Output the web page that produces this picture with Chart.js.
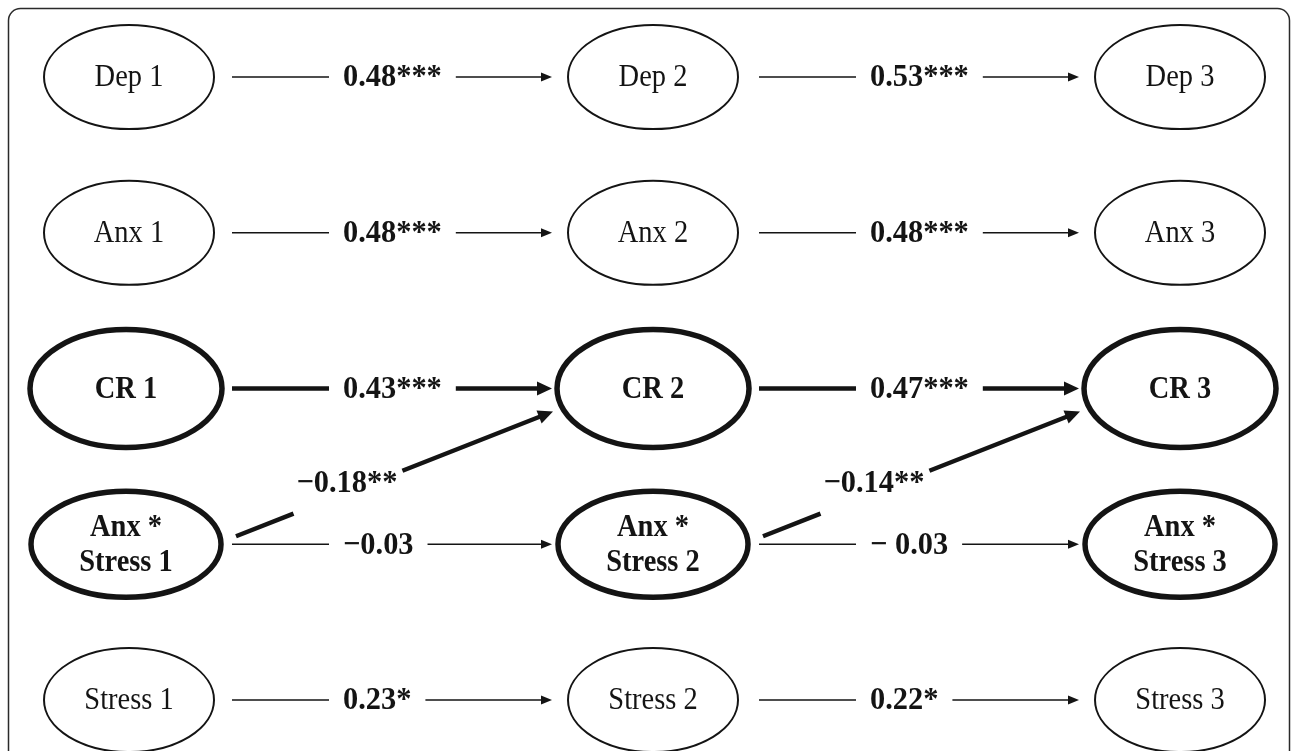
<!DOCTYPE html>
<html>
<head>
<meta charset="utf-8">
<script src="https://cdn.jsdelivr.net/npm/chart.js@4.4.1/dist/chart.umd.min.js"></script>
<style>
  html, body { margin: 0; padding: 0; background: #fff; }
  canvas { display: block; }
</style>
</head>
<body>
<canvas id="pathChart" width="1292" height="751"></canvas>
<script>
// measurement waves (columns) and constructs (rows)
const waves = [1, 2, 3];
const constructs = [['Dep'], ['Anx'], ['CR'], ['Anx *', 'Stress'], ['Stress']];
// autoregressive paths: wave 1 -> 2, wave 2 -> 3
const stability = [
  ['0.48***', '0.53***'],
  ['0.48***', '0.48***'],
  ['0.43***', '0.47***'],
  ['\u22120.03', '\u2212 0.03'],
  ['0.23*', '0.22*']
];
// cross-lagged paths: Anx*Stress (t) -> CR (t+1)
const crossFrom = 3;
const crossTo = 2;
const crossLagged = ['\u22120.18**', '\u22120.14**'];

// styling
const boldRows = [2, 3];
const thickEdgeRows = [2];
const serif = '"Liberation Serif", "Times New Roman", serif';
const ink = '#141414';
const nodeSqueeze = 0.89;   // the figure's type is a little condensed
const labelSqueeze = 0.95;

const nodePoints = [];
constructs.forEach(function(c, r) {
  waves.forEach(function(w) { nodePoints.push({ x: w, y: r + 1 }); });
});

function nodeSize(r) {
  if (r === 2) return { rx: 96, ry: 59, lw: 5.5 };
  if (r === 3) return { rx: 95, ry: 53, lw: 5.5 };
  return { rx: 85, ry: 52, lw: 2 };
}

function drawText(ctx, t, x, y, align, sq) {
  ctx.save();
  ctx.translate(x, y);
  ctx.scale(sq, 1);
  ctx.textAlign = align;
  ctx.textBaseline = 'middle';
  ctx.fillText(t, 0, 0);
  ctx.restore();
}

function arrowHead(ctx, x, y, ang, len, half) {
  ctx.save();
  ctx.translate(x, y);
  ctx.rotate(ang);
  ctx.beginPath();
  ctx.moveTo(0, 0);
  ctx.lineTo(-len, -half);
  ctx.lineTo(-len, half);
  ctx.closePath();
  ctx.fill();
  ctx.restore();
}

const diagramPlugin = {
  id: 'pathDiagram',
  beforeDraw(chart) {
    const ctx = chart.ctx;
    const a = chart.chartArea;
    ctx.save();
    ctx.fillStyle = '#fff';
    ctx.fillRect(a.left, a.top, a.right - a.left, a.bottom - a.top);
    // rounded frame, open at the bottom
    ctx.strokeStyle = '#2a2a2a';
    ctx.lineWidth = 1.5;
    ctx.beginPath();
    ctx.roundRect(a.left + 8.5, a.top + 8.5, a.right - a.left - 11, a.bottom - a.top + 40, 12);
    ctx.stroke();
    ctx.restore();
  },
  afterDatasetsDraw(chart) {
    const ctx = chart.ctx;
    const xs = chart.scales.x, ys = chart.scales.y;
    const cx = function(w) { return xs.getPixelForValue(w); };
    const cy = function(r) { return ys.getPixelForValue(r + 1); };
    ctx.save();
    ctx.strokeStyle = ink;
    ctx.fillStyle = ink;

    // nodes
    constructs.forEach(function(lines, r) {
      const s = nodeSize(r);
      const bold = boldRows.indexOf(r) >= 0;
      waves.forEach(function(w) {
        const x = cx(w) + (s.lw < 3 && w === 1 ? 3 : 0), y = cy(r);
        ctx.lineWidth = s.lw;
        ctx.beginPath();
        ctx.ellipse(x, y, s.rx, s.ry, 0, 0, Math.PI * 2);
        ctx.stroke();
        ctx.font = (bold ? 'bold ' : '') + '32px ' + serif;
        const txt = lines.slice();
        txt[txt.length - 1] += ' ' + w;
        txt.forEach(function(t, i) {
          drawText(ctx, t, x, y + (i - (txt.length - 1) / 2) * 35 + 1, 'center', nodeSqueeze);
        });
      });
    });

    // autoregressive paths
    stability.forEach(function(pair, r) {
      const thick = thickEdgeRows.indexOf(r) >= 0;
      const lw = thick ? 4.5 : 1.5;
      const hl = thick ? 15 : 11, hw = thick ? 7 : 4.5;
      pair.forEach(function(label, k) {
        const y = cy(r);
        const x0 = cx(waves[k]) + 106;
        const x1 = cx(waves[k + 1]) - 101;
        ctx.font = 'bold 32px ' + serif;
        const tw = ctx.measureText(label).width * labelSqueeze;
        const lead = x0 + 97;
        const tx = lead + 14;
        ctx.lineWidth = lw;
        ctx.beginPath();
        ctx.moveTo(x0, y);
        ctx.lineTo(lead, y);
        ctx.moveTo(tx + tw + 14, y);
        ctx.lineTo(x1 - hl + 2, y);
        ctx.stroke();
        arrowHead(ctx, x1, y, 0, hl, hw);
        drawText(ctx, label, tx, y + 1, 'left', labelSqueeze);
      });
    });

    // cross-lagged paths
    crossLagged.forEach(function(label, k) {
      const xa = cx(waves[k]) + 110, ya = cy(crossFrom) - 8;
      const xb = cx(waves[k + 1]) - 100, yb = cy(crossTo) + 23;
      const ang = Math.atan2(yb - ya, xb - xa);
      const hl = 15, hw = 7;
      ctx.font = 'bold 32px ' + serif;
      const tw = ctx.measureText(label).width * labelSqueeze;
      const t = 0.35;
      const lx = xa + (xb - xa) * t;
      const ly = ya + (yb - ya) * t - 9;
      const g0 = (lx - tw / 2 - 3 - xa) / (xb - xa);
      const g1 = (lx + tw / 2 + 5 - xa) / (xb - xa);
      const tipBack = 1 - (hl - 2) / Math.hypot(xb - xa, yb - ya);
      ctx.lineWidth = 4.5;
      ctx.beginPath();
      ctx.moveTo(xa, ya);
      ctx.lineTo(xa + (xb - xa) * g0, ya + (yb - ya) * g0);
      ctx.moveTo(xa + (xb - xa) * g1, ya + (yb - ya) * g1);
      ctx.lineTo(xa + (xb - xa) * tipBack, ya + (yb - ya) * tipBack);
      ctx.stroke();
      arrowHead(ctx, xb, yb, ang, hl, hw);
      drawText(ctx, label, lx, ly, 'center', labelSqueeze);
    });
    ctx.restore();
  }
};

new Chart(document.getElementById('pathChart'), {
  type: 'scatter',
  data: {
    datasets: [{ label: 'constructs', data: nodePoints, pointRadius: 0, pointHoverRadius: 0 }]
  },
  options: {
    responsive: false,
    animation: false,
    layout: { padding: 0 },
    events: [],
    plugins: { legend: { display: false }, tooltip: { enabled: false } },
    scales: {
      x: { type: 'linear', display: false, min: 0.7609, max: 3.2125 },
      y: { type: 'linear', display: false, reverse: true, min: 0.5056, max: 5.3274 }
    }
  },
  plugins: [diagramPlugin]
});
</script>
</body>
</html>
